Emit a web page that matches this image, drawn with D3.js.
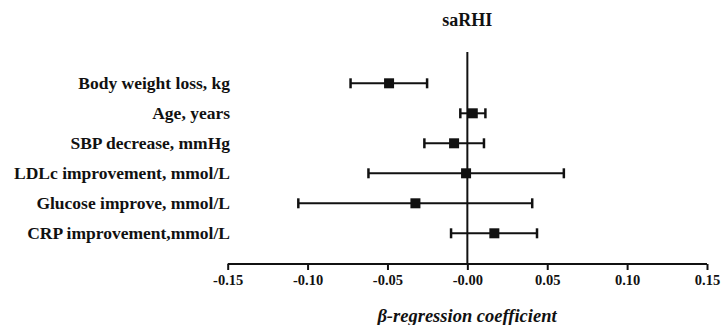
<!DOCTYPE html>
<html>
<head>
<meta charset="utf-8">
<script src="https://cdn.jsdelivr.net/npm/d3@7"></script>
<style>
  body { margin: 0; background: #fff; }
  text { font-family: "Liberation Serif", "Times New Roman", serif; font-weight: bold; fill: #111; }
</style>
</head>
<body>
<script>
// данные: переменные, оценка и доверительный интервал
const labels = ['Body weight loss, kg', 'Age, years', 'SBP decrease, mmHg',
    'LDLc improvement, mmol/L', 'Glucose improve, mmol/L', 'CRP improvement,mmol/L']
const beta = [-0.049, 0.0034, -0.0083, -0.0008, -0.0325, 0.0169]
const lower = [-0.0731, -0.0044, -0.0269, -0.0619, -0.1058, -0.0102]
const upper = [-0.0252, 0.0113, 0.0104, 0.0604, 0.0406, 0.0436]
const ticks = [-0.15, -0.10, -0.05, 0, 0.05, 0.10, 0.15]

const width = 722, height = 325
const svg = d3.select('body').append('svg').attr('width', width).attr('height', height)

const x = d3.scaleLinear().domain([-0.15, 0.15]).range([227.7, 707])
const y = d3.scalePoint().domain(labels).range([83.3, 233.3])
const axisY = 264

// заголовок
svg.append('text').attr('x', x(0)).attr('y', 26).attr('text-anchor', 'middle')
    .style('font-size', '18px').text('saRHI')

// вертикальная линия нуля
svg.append('line').attr('x1', x(0)).attr('x2', x(0)).attr('y1', 52).attr('y2', axisY)
    .attr('stroke', '#111').attr('stroke-width', 2)

// ось x (дефис вместо юникодного минуса, как в оригинале)
const axis = svg.append('g').attr('transform', `translate(0,${axisY})`)
    .call(d3.axisBottom(x).tickValues(ticks).tickSize(6).tickPadding(5)
        .tickFormat(d => d === 0 ? '-0.00' : d3.format('.2f')(d).replace('−', '-')))
axis.select('.domain').attr('stroke', '#111').attr('stroke-width', 2).attr('d', `M${x(-0.15)},0H${x(0.15)}`)
axis.selectAll('.tick line').attr('stroke', '#111').attr('stroke-width', 2)
axis.selectAll('.tick text').style('font-size', '14.5px').attr('font-family', null).attr('fill', null)

// подпись оси
svg.append('text').attr('x', 467).attr('y', 322).attr('text-anchor', 'middle')
    .style('font-size', '18.5px').style('font-style', 'italic').text('β-regression coefficient')

// подписи строк
svg.selectAll('text.lab').data(labels).enter().append('text').attr('class', 'lab')
    .attr('x', 230).attr('y', d => y(d)).attr('dy', '0.34em').attr('text-anchor', 'end')
    .style('font-size', '17.5px').text(d => d)

// доверительные интервалы
const rows = svg.selectAll('g.row').data(labels).enter().append('g').attr('class', 'row')
rows.append('line').attr('x1', (d, i) => x(lower[i])).attr('x2', (d, i) => x(upper[i]))
    .attr('y1', d => y(d)).attr('y2', d => y(d)).attr('stroke', '#111').attr('stroke-width', 2)
rows.append('line').attr('x1', (d, i) => x(lower[i])).attr('x2', (d, i) => x(lower[i]))
    .attr('y1', d => y(d) - 5).attr('y2', d => y(d) + 5).attr('stroke', '#111').attr('stroke-width', 2.5)
rows.append('line').attr('x1', (d, i) => x(upper[i])).attr('x2', (d, i) => x(upper[i]))
    .attr('y1', d => y(d) - 5).attr('y2', d => y(d) + 5).attr('stroke', '#111').attr('stroke-width', 2.5)
rows.append('rect').attr('x', (d, i) => x(beta[i]) - 5).attr('y', d => y(d) - 5)
    .attr('width', 10).attr('height', 10).attr('fill', '#111')
</script>
</body>
</html>
